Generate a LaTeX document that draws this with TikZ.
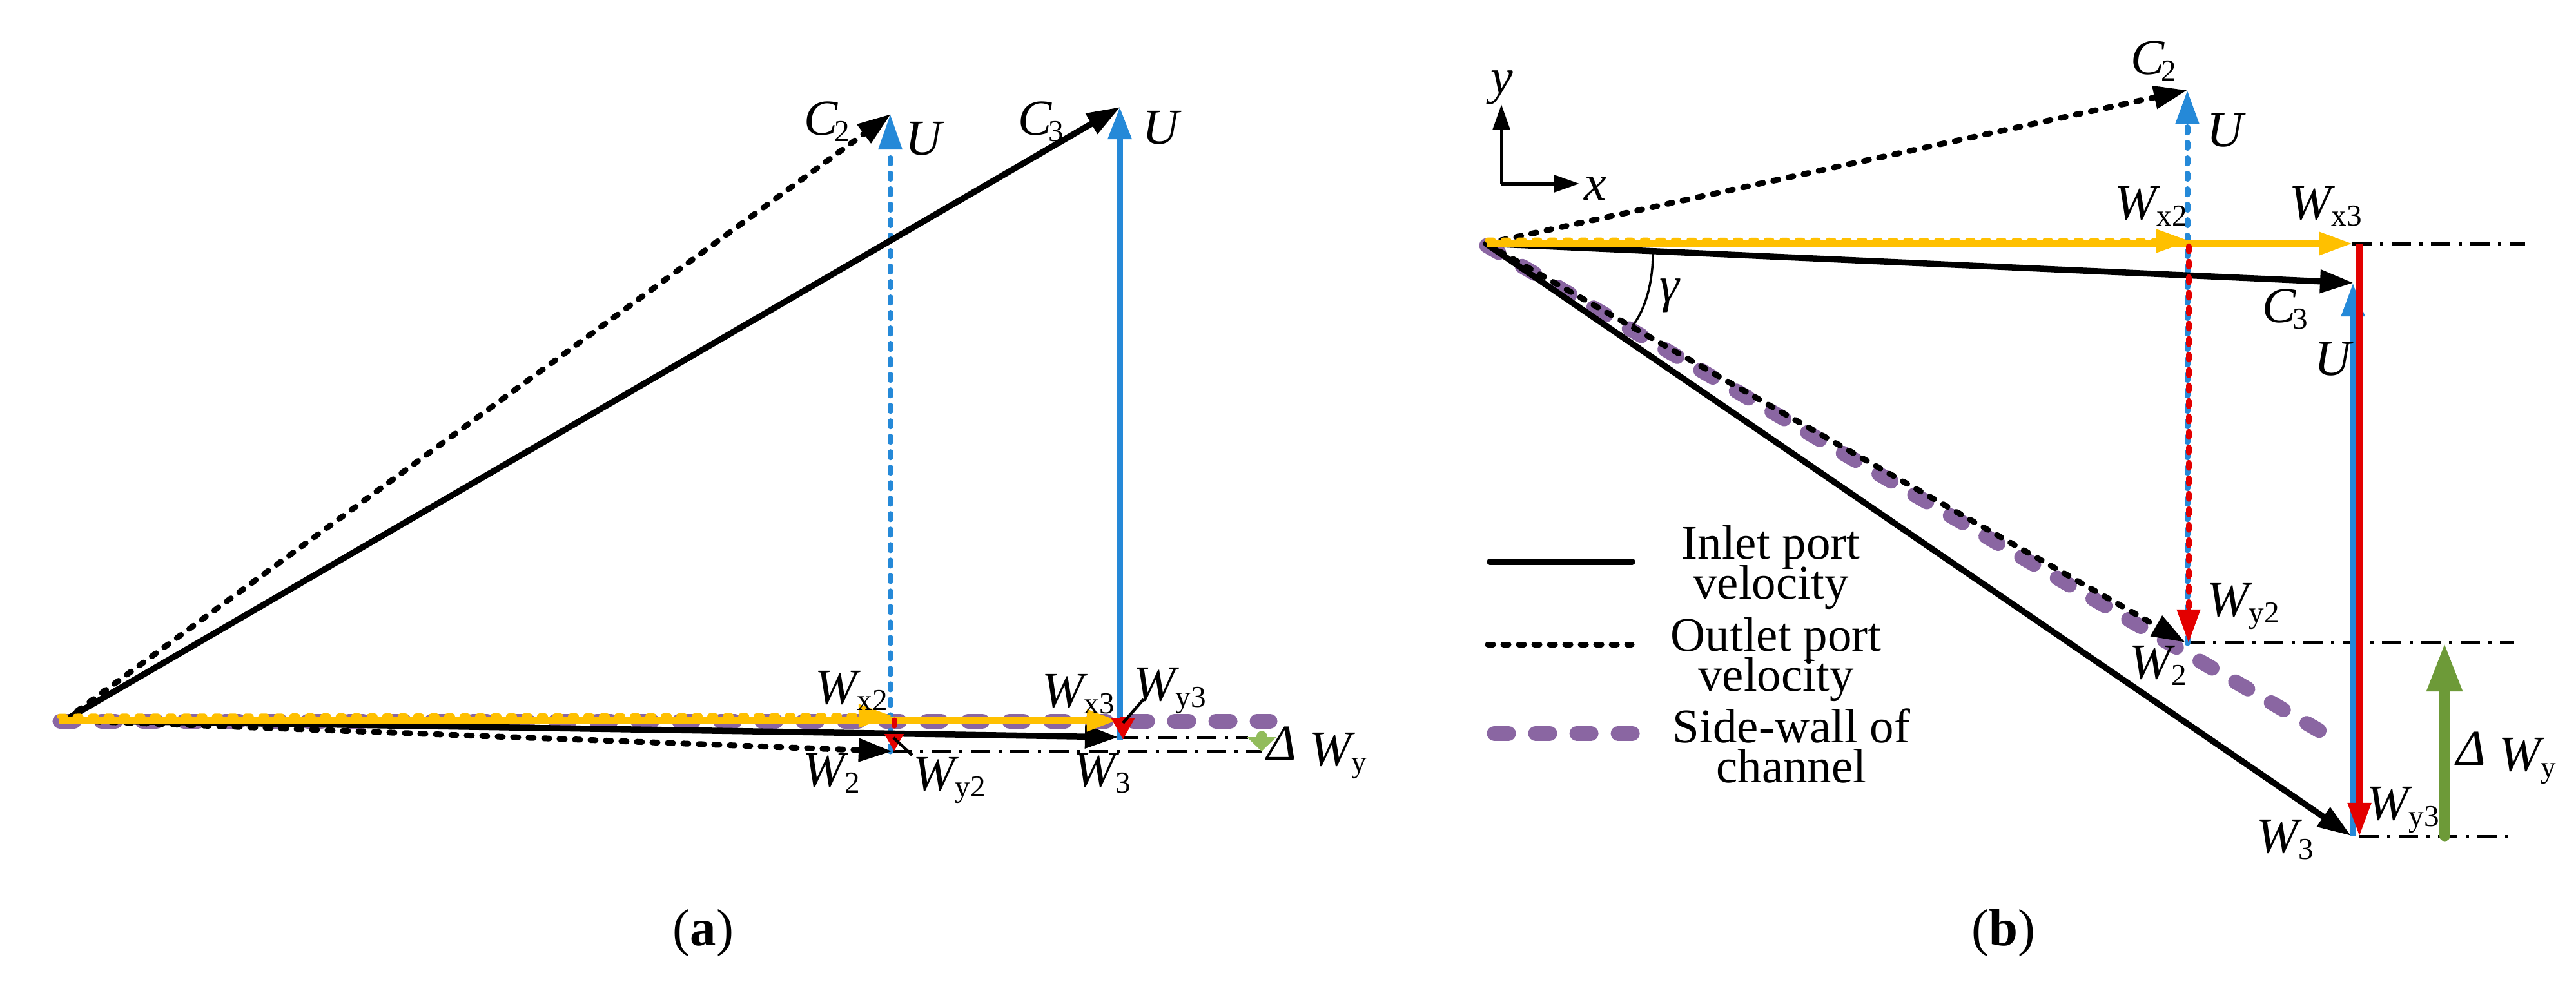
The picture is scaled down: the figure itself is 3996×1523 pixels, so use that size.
\documentclass[tikz,border=0pt]{standalone}
\usepackage{fontspec}
\setmainfont{Liberation Serif}
\usetikzlibrary{arrows.meta}
\definecolor{wallpurple}{HTML}{8A66A2}
\definecolor{ublue}{HTML}{2589D8}
\definecolor{wxyellow}{HTML}{FFC000}
\definecolor{wyred}{HTML}{E30000}
\definecolor{dwgreen}{HTML}{6D9A38}
\definecolor{dwlight}{HTML}{92BC5B}
\newcommand{\velsub}[2]{\textit{#1}\kern-.06cm\raisebox{-.105cm}{\fontsize{13.4}{16}\selectfont #2}}
\newcommand{\dwy}{\raisebox{.09cm}{\makebox[.66cm][l]{\textit{Δ}}}\velsub{W}{y}}
\newcommand{\legfont}{\fontsize{21.3}{17.4}\selectfont\lineskiplimit=-10pt\relax}
\tikzset{
	lab/.style={inner sep=0pt,anchor=base west,font=\fontsize{22.2}{26}\selectfont},
	legendlab/.style={inner sep=0pt,anchor=base,align=center,font=\legfont},
	caplab/.style={inner sep=0pt,anchor=base,font=\fontsize{23}{28}\selectfont},
	bigtip/.style={-{Triangle[length=.52cm,width=.345cm]}},
	solidvec/.style={line width=.095cm},
	dotvec/.style={line width=.09cm,line cap=round,dash pattern=on .08cm off .16cm},
	wall/.style={wallpurple,line width=.23cm,line cap=round,dash pattern=on .22cm off .42cm},
	dashdot/.style={line width=.05cm,dash pattern=on .30cm off .13cm on .05cm off .13cm},
	leader/.style={line width=.045cm},
}
\begin{document}
\begin{tikzpicture}[x=.01cm,y=-.01cm]
	\useasboundingbox (0,0) rectangle (3996,1523);

	\coordinate (oa) at (100,1118);
	\coordinate (walla) at (93,1119);
	\coordinate (wallaend) at (1970,1119);
	\coordinate (c2a) at (1382,177);
	\coordinate (c3a) at (1738,166);
	\coordinate (w2a) at (1384,1166);
	\coordinate (w3a) at (1735,1144);
	\coordinate (u2a) at (1381,1166);
	\coordinate (u2atip) at (1381,177);
	\coordinate (u3a) at (1737,1148);
	\coordinate (u3atip) at (1737,166);
	\coordinate (ysa) at (92,1118);
	\coordinate (ysatip) at (1733,1118);
	\coordinate (yda) at (93,1112);
	\coordinate (ydatip) at (1384,1111);
	\coordinate (r2a) at (1387,1118);
	\coordinate (r2atip) at (1387,1166);
	\coordinate (r3a) at (1742,1112);
	\coordinate (r3atip) at (1742,1148);
	\coordinate (d3a) at (1936,1144);
	\coordinate (d2a) at (1958,1166);
	\coordinate (ga) at (1957,1143);
	\coordinate (gatip) at (1957,1166);
	\coordinate (l2a) at (1386,1145);
	\coordinate (l2b) at (1415,1172);
	\coordinate (l3a) at (1742,1122);
	\coordinate (l3b) at (1774,1085);

	\path [wall] (walla) edge (wallaend);
	\path [dashdot] (w3a) edge (d3a);
	\path [dashdot] (w2a) edge (d2a);
	\path [ublue,dotvec,-{Triangle[length=.55cm,width=.35cm]}] (u2a) edge (u2atip);
	\path [ublue,solidvec,-{Triangle[length=.5cm,width=.35cm]}] (u3a) edge (u3atip);
	\path [dotvec,bigtip] (oa) edge (c2a);
	\path [solidvec,bigtip] (oa) edge (c3a);
	\path [dotvec,bigtip] (oa) edge (w2a);
	\path [solidvec,bigtip] (oa) edge (w3a);
	\path [wxyellow,dotvec,bigtip] (yda) edge (ydatip);
	\path [wxyellow,solidvec,-{Triangle[length=.47cm,width=.32cm]}] (ysa) edge (ysatip);
	\path [wyred,dotvec,-{Triangle[length=.27cm,width=.28cm]}] (r2a) edge (r2atip);
	\path [wyred,solidvec,-{Triangle[length=.34cm,width=.35cm]}] (r3a) edge (r3atip);
	\path [dwlight,line width=.17cm,line cap=round,-{Triangle[length=.22cm,width=.44cm]}] (ga) edge (gatip);
	\path [leader] (l2a) edge (l2b);
	\path [leader] (l3a) edge (l3b);

	\node [lab] (c2alab) at (1247,209) {\velsub{C}{2}};
	\node [lab] (u2alab) at (1404,240) {\textit{U}};
	\node [lab] (c3alab) at (1579,209) {\velsub{C}{3}};
	\node [lab] (u3alab) at (1772,223) {\textit{U}};
	\node [lab] (wx2alab) at (1264,1092) {\velsub{W}{x2}};
	\node [lab] (wx3alab) at (1616,1097) {\velsub{W}{x3}};
	\node [lab] (wy3alab) at (1758,1087) {\velsub{W}{y3}};
	\node [lab] (w2alab) at (1245,1220) {\velsub{W}{2}};
	\node [lab] (wy2alab) at (1416,1226) {\velsub{W}{y2}};
	\node [lab] (w3alab) at (1665,1220) {\velsub{W}{3}};
	\node [lab] (dwalab) at (1965,1188) {\dwy};
	\node [caplab] (capa) at (1091,1467) {(\textbf{a})};

	\coordinate (ob) at (2305,378);
	\coordinate (wallb) at (2306,381);
	\coordinate (wallbend) at (3610,1141);
	\coordinate (c2b) at (3393,140);
	\coordinate (c3b) at (3651,439);
	\coordinate (w2b) at (3390,997);
	\coordinate (w3b) at (3647,1297);
	\coordinate (u2b) at (3393,998);
	\coordinate (u2btip) at (3393,140);
	\coordinate (u3b) at (3650,1297);
	\coordinate (u3btip) at (3650,439);
	\coordinate (ysb) at (2307,378);
	\coordinate (ysbtip) at (3649,378);
	\coordinate (ydb) at (2308,373);
	\coordinate (ydbtip) at (3397,374);
	\coordinate (r2b) at (3395,382);
	\coordinate (r2btip) at (3395,998);
	\coordinate (r3b) at (3660,378);
	\coordinate (r3btip) at (3660,1298);
	\coordinate (dtop) at (3917,378);
	\coordinate (dmid) at (3900,997);
	\coordinate (dlow) at (3900,1298);
	\coordinate (gb) at (3792,1297);
	\coordinate (gbtip) at (3792,997);
	\coordinate (axo) at (2329,285);
	\coordinate (axx) at (2450,285);
	\coordinate (axy) at (2329,162);
	\coordinate (gama) at (2564,393);
	\coordinate (gamb) at (2533,505);
	\coordinate (lega) at (2311,872);
	\coordinate (legb) at (2532,872);
	\coordinate (legc) at (2308,1000);
	\coordinate (legd) at (2531,1000);
	\coordinate (lege) at (2318,1138);
	\coordinate (legf) at (2534,1138);

	\path [wall] (wallb) edge (wallbend);
	\path [dashdot] (ysbtip) edge (dtop);
	\path [dashdot] (w2b) edge (dmid);
	\path [dashdot] (r3btip) edge (dlow);
	\path [ublue,dotvec,bigtip] (u2b) edge (u2btip);
	\path [ublue,solidvec,bigtip] (u3b) edge (u3btip);
	\path [dotvec,bigtip] (ob) edge (c2b);
	\path [solidvec,bigtip] (ob) edge (c3b);
	\path [dotvec,bigtip] (ob) edge (w2b);
	\path [solidvec,bigtip] (ob) edge (w3b);
	\path [wxyellow,dotvec,bigtip] (ydb) edge (ydbtip);
	\path [wxyellow,solidvec,bigtip] (ysb) edge (ysbtip);
	\path [wyred,dotvec,bigtip] (r2b) edge (r2btip);
	\path [wyred,solidvec,bigtip] (r3b) edge (r3btip);
	\path [dwgreen,line width=.17cm,line cap=round,-{Triangle[length=.76cm,width=.51cm]}] (gb) edge (gbtip);
	\path [line width=.05cm,-{Triangle[length=.39cm,width=.26cm]}] (axo) edge (axx);
	\path [line width=.05cm,-{Triangle[length=.39cm,width=.26cm]}] (axo) edge (axy);
	\draw [line width=.035cm] (gama) .. controls (2564,440) and (2552,480) .. (gamb);
	\path [solidvec,line cap=round] (lega) edge (legb);
	\path [dotvec] (legc) edge (legd);
	\path [wall] (lege) edge (legf);

	\node [lab] (ylab) at (2312,145) {\textit{y}};
	\node [lab] (xlab) at (2457,310) {\textit{x}};
	\node [lab] (gamlab) at (2574,468) {\textit{γ}};
	\node [lab] (c2blab) at (3305,115) {\velsub{C}{2}};
	\node [lab] (u2blab) at (3423,227) {\textit{U}};
	\node [lab] (wx2blab) at (3280,340) {\velsub{W}{x2}};
	\node [lab] (wx3blab) at (3551,340) {\velsub{W}{x3}};
	\node [lab] (c3blab) at (3509,500) {\velsub{C}{3}};
	\node [lab] (u3blab) at (3590,582) {\textit{U}};
	\node [lab] (wy2blab) at (3423,956) {\velsub{W}{y2}};
	\node [lab] (w2blab) at (3303,1053) {\velsub{W}{2}};
	\node [lab] (w3blab) at (3500,1323) {\velsub{W}{3}};
	\node [lab] (wy3blab) at (3671,1272) {\velsub{W}{y3}};
	\node [lab] (dwblab) at (3810,1196) {\dwy};
	\node [legendlab] (leginlet) at (2747,929) {Inlet port\\velocity};
	\node [legendlab] (legoutlet) at (2755,1072) {Outlet port\\velocity};
	\node [legendlab] (legwall) at (2779,1214) {Side-wall of\\channel};
	\node [caplab] (capb) at (3108,1467) {(\textbf{b})};
\end{tikzpicture}
\end{document}
